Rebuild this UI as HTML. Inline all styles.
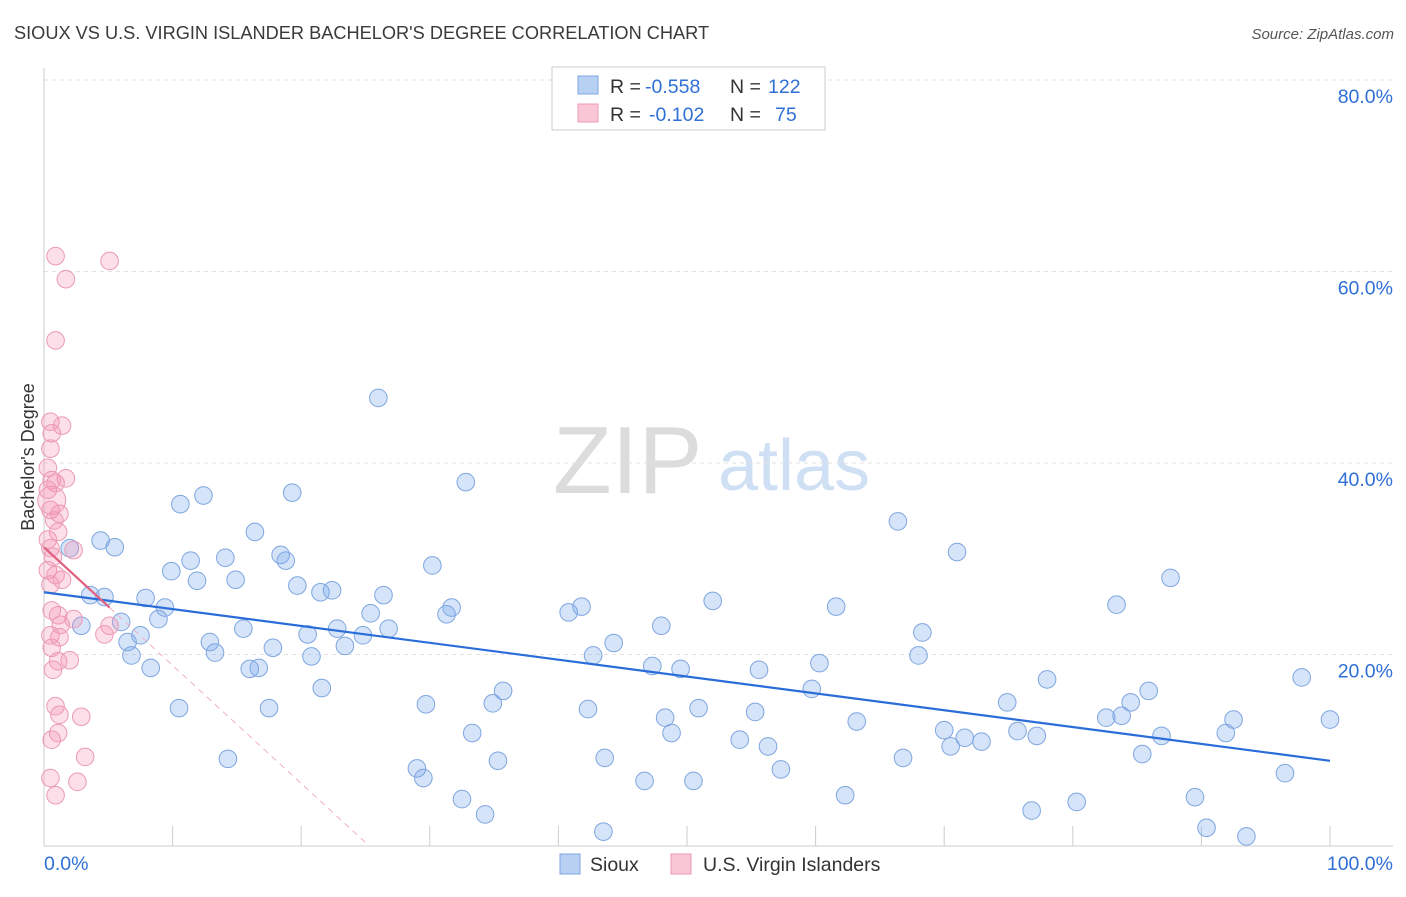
<!DOCTYPE html>
<html><head><meta charset="utf-8">
<style>
body{margin:0;background:#fff;font-family:"Liberation Sans",sans-serif;}
svg text{font-family:"Liberation Sans",sans-serif;}
</style></head>
<body>
<svg id="chart" width="1406" height="892">
<text x="14" y="39" font-size="18.2" fill="#3a3a3a">SIOUX VS U.S. VIRGIN ISLANDER BACHELOR'S DEGREE CORRELATION CHART</text>
<text x="1394" y="39" font-size="15" fill="#555" font-style="italic" text-anchor="end">Source: ZipAtlas.com</text>
<text x="34" y="457" font-size="18" fill="#333" text-anchor="middle" transform="rotate(-90 34 457)">Bachelor's Degree</text>
<g>
<text x="553" y="493" font-size="96" font-family="Liberation Serif" fill="#dcdcdc">ZIP</text>
<text x="718" y="490" font-size="72" fill="#cfe0f5">atlas</text>
</g>
<g id="grid"></g>
<g id="axes"></g>
<g id="marks"></g>
<g>
<rect x="552" y="67" width="273" height="63" fill="#fff" stroke="#ccc"/>
<rect x="578" y="76" width="20" height="18" fill="#b8d1f3" stroke="#7ea6e0"/>
<text x="610" y="93" font-size="19.5" fill="#333">R =</text>
<text x="645" y="93" font-size="19.5" fill="#2f6fd6">-0.558</text>
<text x="730" y="93" font-size="19.5" fill="#333">N =</text>
<text x="768" y="93" font-size="19.5" fill="#2f6fd6">122</text>
<rect x="578" y="104" width="20" height="18" fill="#f8c6d5" stroke="#eb9ab5"/>
<text x="610" y="121" font-size="19.5" fill="#333">R =</text>
<text x="649" y="121" font-size="19.5" fill="#2f6fd6">-0.102</text>
<text x="730" y="121" font-size="19.5" fill="#333">N =</text>
<text x="775" y="121" font-size="19.5" fill="#2f6fd6">75</text>
</g>
<g>
<rect x="560" y="854" width="20" height="20" fill="#b8d1f3" stroke="#7ea6e0"/>
<text x="590" y="871" font-size="19.5" fill="#333">Sioux</text>
<rect x="671" y="854" width="20" height="20" fill="#f8c6d5" stroke="#eb9ab5"/>
<text x="703" y="871" font-size="19.5" fill="#333">U.S. Virgin Islanders</text>
</g>
</svg>
<script>
const yTicks=[20,40,60,80];
const yTickLabels=["20.0%","40.0%","60.0%","80.0%"];
const xTickLabels=["0.0%","100.0%"];
const siouxX=[2.0,4.4,5.5,2.9,3.6,4.7,6.0,6.5,6.8,7.5,7.9,8.3,8.9,9.4,9.9,10.5,10.6,11.4,11.9,12.4,12.9,13.3,14.1,14.3,14.9,15.5,16.0,16.4,16.7,17.5,17.8,18.4,18.8,19.3,19.7,20.5,20.8,21.5,21.6,22.4,22.8,23.4,24.8,25.4,26.0,26.4,26.8,29.0,29.5,29.7,30.2,31.3,31.7,32.5,32.8,33.3,34.3,34.9,35.3,35.7,40.8,41.8,42.3,42.7,43.5,43.6,44.3,46.7,47.3,48.0,48.3,48.8,49.5,50.5,50.9,52.0,54.1,55.3,55.6,56.3,57.3,59.7,60.3,61.6,62.3,63.2,66.4,66.8,68.0,68.3,70.0,70.5,71.0,71.6,72.9,74.9,75.7,76.8,77.2,78.0,80.3,82.6,83.4,83.8,84.5,85.4,85.9,86.9,87.6,89.5,90.4,91.9,92.5,93.5,96.5,97.8,100.0];
const siouxY=[31.1,31.9,31.2,23.0,26.2,26.0,23.4,21.3,19.9,22.0,25.9,18.6,23.7,24.9,28.7,14.4,35.7,29.8,27.7,36.6,21.3,20.2,30.1,9.1,27.8,22.7,18.5,32.8,18.6,14.4,20.7,30.4,29.8,36.9,27.2,22.1,19.8,26.5,16.5,26.7,22.7,20.9,22.0,24.3,46.8,26.2,22.7,8.1,7.1,14.8,29.3,24.2,24.9,4.9,38.0,11.8,3.3,14.9,8.9,16.2,24.4,25.0,14.3,19.9,1.5,9.2,21.2,6.8,18.8,23.0,13.4,11.8,18.5,6.8,14.4,25.6,11.1,14.0,18.4,10.4,8.0,16.4,19.1,25.0,5.3,13.0,33.9,9.2,19.9,22.3,12.1,10.4,30.7,11.3,10.9,15.0,12.0,3.7,11.5,17.4,4.6,13.4,25.2,13.6,15.0,9.6,16.2,11.5,28.0,5.1,1.9,11.8,13.2,1.0,7.6,17.6,13.2];
const virginX=[0.9,5.1,1.7,0.9,0.5,1.4,0.6,0.5,0.3,1.7,0.6,0.9,0.3,0.5,1.2,0.8,1.1,0.3,0.5,2.3,0.7,0.3,0.9,1.4,0.5,0.6,1.1,2.3,1.3,5.1,0.5,1.2,4.7,0.6,2.0,1.1,0.7,0.9,1.2,2.9,1.1,0.6,3.2,0.5,2.6,0.9];
const virginY=[61.6,61.1,59.2,52.8,44.3,43.9,43.1,41.5,39.5,38.4,38.2,37.9,37.2,35.1,34.7,34.0,32.8,32.0,31.1,30.9,30.2,28.8,28.3,27.8,27.3,24.6,24.1,23.7,23.1,23.0,22.0,21.8,22.1,20.7,19.4,19.3,18.4,14.6,13.7,13.5,11.8,11.1,9.3,7.1,6.7,5.3];
const siouxTrend=[26.5,8.9];
const virginTrend=[31.2,24.9];
const virginTrendEndX=5.1, virginDashEnd=25.3;

const NS="http://www.w3.org/2000/svg";
const X0=44,X1=1330,Y0=846,Y80=80;
const sx=v=>X0+(X1-X0)*v/100;
const sy=v=>Y0-(Y0-Y80)*v/80;
function mk(tag,attrs,parent){const e=document.createElementNS(NS,tag);for(const k in attrs)e.setAttribute(k,attrs[k]);parent.appendChild(e);return e;}
const grid=document.getElementById('grid'),axes=document.getElementById('axes'),marks=document.getElementById('marks');
yTicks.forEach((t,i)=>{
 const l=mk('line',{x1:X0,x2:1393,y1:sy(t),y2:sy(t),stroke:'#e2e2e2','stroke-dasharray':'4,4'},grid);
 
 
 const tx=mk('text',{x:1393,y:sy(t)+23,'font-size':19.5,fill:'#2f6fd6','text-anchor':'end'},axes);
 tx.textContent=yTickLabels[i];
 
 
});
const ax=mk('line',{x1:X0,x2:X0,y1:68,y2:Y0,stroke:'#ccc'},axes);


const bx=mk('line',{x1:X0,x2:1393,y1:Y0,y2:Y0,stroke:'#ccc'},axes);


for(let i=1;i<=10;i++){const t=mk('line',{x1:sx(i*10),x2:sx(i*10),y1:826,y2:Y0,stroke:'#ccc'},axes);
 
 }
[[0,'start',44],[100,'end',1393]].forEach((d,i)=>{const t=mk('text',{x:d[2],y:870,'font-size':19.5,fill:'#2f6fd6','text-anchor':d[1]},axes);t.textContent=xTickLabels[i];
 
 });
siouxX.forEach((x,i)=>{const c=mk('circle',{cx:sx(x),cy:sy(siouxY[i]),r:8.8,fill:'rgba(120,165,235,0.3)',stroke:'#7ea6e0','stroke-width':1},marks);
 
 });
virginX.forEach((x,i)=>{const c=mk('circle',{cx:sx(x),cy:sy(virginY[i]),r:8.8,fill:'rgba(245,150,180,0.3)',stroke:'#eb9ab5','stroke-width':1},marks);
 
 });
const big=mk('circle',{cx:sx(0.6),cy:sy(36.1),r:14,fill:'rgba(245,150,180,0.3)',stroke:'#eb9ab5'},marks);


const bl=mk('line',{x1:sx(0),y1:sy(siouxTrend[0]),x2:sx(100),y2:sy(siouxTrend[1]),stroke:'#2a6dd9','stroke-width':2.2},marks);


const pl=mk('line',{x1:sx(0),y1:sy(virginTrend[0]),x2:sx(virginTrendEndX),y2:sy(virginTrend[1]),stroke:'#e0607f','stroke-width':2.2},marks);


const pd=mk('line',{x1:sx(virginTrendEndX),y1:sy(virginTrend[1]),x2:sx(virginDashEnd),y2:sy(0),stroke:'#f0b0c2','stroke-width':1,'stroke-dasharray':'6,5'},marks);


</script>
</body></html>
